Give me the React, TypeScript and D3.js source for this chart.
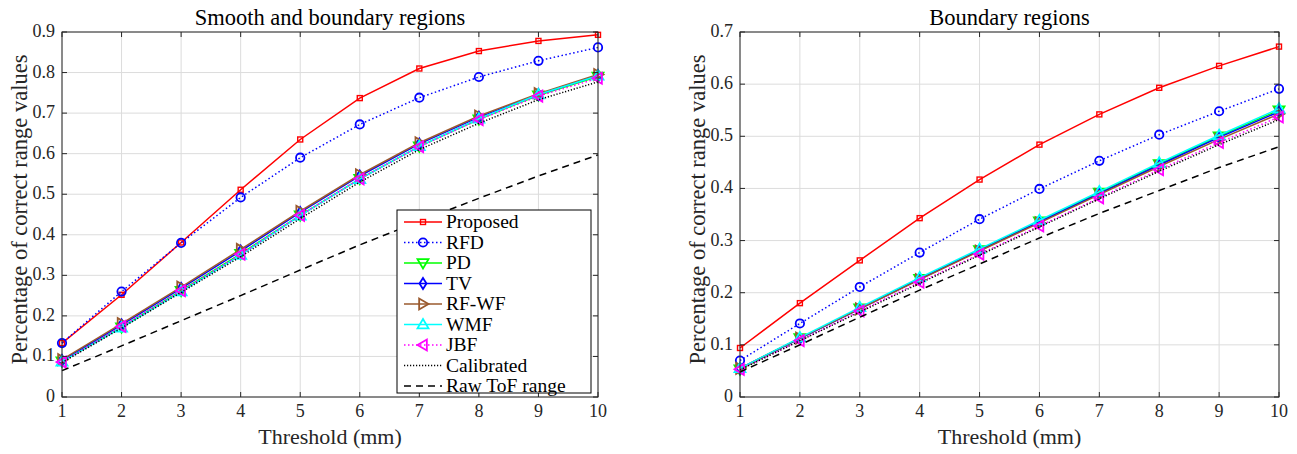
import React from "react";
import { scaleLinear, line, range } from "d3";

const thresholds = [1, 2, 3, 4, 5, 6, 7, 8, 9, 10];

// Smooth and boundary regions
const smoothProposed = [0.133, 0.252, 0.381, 0.511, 0.635, 0.737, 0.81, 0.853, 0.878, 0.893];
const smoothRFD = [0.133, 0.26, 0.38, 0.492, 0.59, 0.672, 0.738, 0.789, 0.829, 0.862];
const smoothPD = [0.088, 0.172, 0.262, 0.353, 0.448, 0.538, 0.618, 0.685, 0.744, 0.79];
const smoothTV = [0.09, 0.178, 0.268, 0.36, 0.455, 0.545, 0.624, 0.69, 0.746, 0.793];
const smoothRFWF = [0.092, 0.181, 0.271, 0.364, 0.458, 0.548, 0.627, 0.693, 0.748, 0.795];
const smoothWMF = [0.087, 0.171, 0.26, 0.35, 0.447, 0.537, 0.618, 0.686, 0.746, 0.792];
const smoothJBF = [0.086, 0.174, 0.262, 0.352, 0.448, 0.538, 0.617, 0.684, 0.742, 0.786];
const smoothCalibrated = [0.085, 0.17, 0.258, 0.346, 0.44, 0.53, 0.61, 0.675, 0.733, 0.777];
const smoothRaw = [0.065, 0.126, 0.188, 0.25, 0.313, 0.375, 0.433, 0.49, 0.545, 0.597];

// Boundary regions
const boundProposed = [0.094, 0.18, 0.262, 0.343, 0.417, 0.484, 0.542, 0.593, 0.635, 0.672];
const boundRFD = [0.07, 0.141, 0.211, 0.277, 0.341, 0.399, 0.453, 0.503, 0.548, 0.591];
const boundPD = [0.053, 0.113, 0.17, 0.227, 0.282, 0.337, 0.392, 0.447, 0.5, 0.55];
const boundTV = [0.055, 0.112, 0.169, 0.226, 0.281, 0.336, 0.39, 0.445, 0.498, 0.547];
const boundRFWF = [0.055, 0.113, 0.169, 0.225, 0.28, 0.334, 0.388, 0.442, 0.494, 0.543];
const boundWMF = [0.055, 0.114, 0.172, 0.229, 0.284, 0.339, 0.394, 0.449, 0.502, 0.553];
const boundJBF = [0.053, 0.108, 0.165, 0.22, 0.274, 0.328, 0.382, 0.436, 0.488, 0.537];
const boundCalibrated = [0.052, 0.108, 0.163, 0.218, 0.272, 0.326, 0.38, 0.433, 0.484, 0.532];
const boundRaw = [0.048, 0.1, 0.153, 0.205, 0.255, 0.305, 0.352, 0.396, 0.44, 0.48];

const seriesNames = ["Proposed", "RFD", "PD", "TV", "RF-WF", "WMF", "JBF", "Calibrated", "Raw ToF range"];

const styles = [
  { color: "#ff0000", dash: "", marker: "square" },
  { color: "#0000ff", dash: "1.5,2.5", marker: "circle" },
  { color: "#00ff00", dash: "", marker: "down" },
  { color: "#0000ff", dash: "", marker: "diamond" },
  { color: "#9a5a2e", dash: "", marker: "right" },
  { color: "#00ffff", dash: "", marker: "up" },
  { color: "#ff00ff", dash: "1.5,2.5", marker: "left" },
  { color: "#000000", dash: "1.2,1.8", marker: "" },
  { color: "#000000", dash: "7,5", marker: "" },
];

const serif = { fontFamily: "Liberation Serif" };
const AXIS = "#262626";

function Marker({ type, x, y, color }: { type: string; x: number; y: number; color: string }) {
  const s = 5.5;
  const common = { fill: "none", stroke: color, strokeWidth: 1.8 };
  switch (type) {
    case "square":
      return <rect x={x - 2.5} y={y - 2.5} width={5} height={5} fill="none" stroke={color} strokeWidth={1.4} />;
    case "circle":
      return <circle cx={x} cy={y} r={4.2} {...common} />;
    case "down":
      return <path d={`M${x - s},${y - s * 0.7}L${x + s},${y - s * 0.7}L${x},${y + s}Z`} {...common} />;
    case "up":
      return <path d={`M${x - s},${y + s * 0.7}L${x + s},${y + s * 0.7}L${x},${y - s}Z`} {...common} />;
    case "right":
      return <path d={`M${x - s * 0.7},${y - s}L${x - s * 0.7},${y + s}L${x + s},${y}Z`} {...common} />;
    case "left":
      return <path d={`M${x + s * 0.7},${y - s}L${x + s * 0.7},${y + s}L${x - s},${y}Z`} {...common} />;
    case "diamond":
      return <path d={`M${x},${y - s}L${x + 3.5},${y}L${x},${y + s}L${x - 3.5},${y}Z`} {...common} />;
    default:
      return null;
  }
}

function Panel({
  left, right, top, bottom, yMax, title, series, showLegend,
}: {
  left: number; right: number; top: number; bottom: number; yMax: number;
  title: string; series: number[][]; showLegend: boolean;
}) {
  const x = scaleLinear().domain([1, 10]).range([left, right]);
  const y = scaleLinear().domain([0, yMax]).range([bottom, top]);
  const yTicks = range(0, yMax + 0.0001, 0.1);
  const gen = line<number>().x((d, i) => x(thresholds[i])).y((d) => y(d));
  const legX = left + 335;
  const legY = 210;

  return (
    <g>
      {/* grid */}
      {thresholds.map((t) => (
        <line key={"gx" + t} x1={x(t)} x2={x(t)} y1={top} y2={bottom} stroke="#dcdcdc" strokeWidth={1} />
      ))}
      {yTicks.map((t) => (
        <line key={"gy" + t} x1={left} x2={right} y1={y(t)} y2={y(t)} stroke="#dcdcdc" strokeWidth={1} />
      ))}
      {/* series */}
      {series.map((vals, si) => (
        <g key={seriesNames[si]}>
          <path d={gen(vals) || ""} fill="none" stroke={styles[si].color} strokeWidth={1.5}
            strokeDasharray={styles[si].dash} />
          {vals.map((v, i) => (
            <Marker key={i} type={styles[si].marker} x={x(thresholds[i])} y={y(v)} color={styles[si].color} />
          ))}
        </g>
      ))}
      {/* box */}
      <rect x={left} y={top} width={right - left} height={bottom - top} fill="none" stroke={AXIS} strokeWidth={1} />
      {thresholds.map((t) => (
        <g key={"tx" + t}>
          <line x1={x(t)} x2={x(t)} y1={bottom} y2={bottom - 5} stroke={AXIS} />
          <line x1={x(t)} x2={x(t)} y1={top} y2={top + 5} stroke={AXIS} />
          <text x={x(t)} y={bottom + 20} textAnchor="middle" fontSize={18} fill={AXIS} style={serif}>{t}</text>
        </g>
      ))}
      {yTicks.map((t) => (
        <g key={"ty" + t}>
          <line x1={left} x2={left + 5} y1={y(t)} y2={y(t)} stroke={AXIS} />
          <line x1={right} x2={right - 5} y1={y(t)} y2={y(t)} stroke={AXIS} />
          <text x={left - 7} y={y(t) + 5} textAnchor="end" fontSize={18} fill={AXIS} style={serif}>
            {Math.round(t * 10) === 0 ? "0" : (Math.round(t * 10) / 10).toString()}
          </text>
        </g>
      ))}
      <text x={(left + right) / 2} y={25} textAnchor="middle" fontSize={22.5} fill="#000" style={serif}>{title}</text>
      <text x={(left + right) / 2} y={444} textAnchor="middle" fontSize={22} fill={AXIS} style={serif}>Threshold (mm)</text>
      <text transform={`translate(${left - 35},${(top + bottom) / 2 - 5}) rotate(-90)`} textAnchor="middle"
        fontSize={22.5} fill={AXIS} style={serif}>Percentage of correct range values</text>
      {showLegend && (
        <g>
          <rect x={legX} y={legY} width={194} height={183} fill="#fff" stroke="#000" strokeWidth={1} />
          {seriesNames.map((name, si) => {
            const ly = legY + 12 + si * 20.5;
            return (
              <g key={"leg" + name}>
                <line x1={legX + 7} x2={legX + 45} y1={ly} y2={ly} stroke={styles[si].color} strokeWidth={1.5}
                  strokeDasharray={styles[si].dash} />
                <Marker type={styles[si].marker} x={legX + 26} y={ly} color={styles[si].color} />
                <text x={legX + 49} y={ly + 6} fontSize={19.5} fill="#000" style={serif}>{name}</text>
              </g>
            );
          })}
        </g>
      )}
    </g>
  );
}

export default function App() {
  const smooth = [smoothProposed, smoothRFD, smoothPD, smoothTV, smoothRFWF, smoothWMF, smoothJBF, smoothCalibrated, smoothRaw];
  const bound = [boundProposed, boundRFD, boundPD, boundTV, boundRFWF, boundWMF, boundJBF, boundCalibrated, boundRaw];
  return (
    <svg width={1297} height={454} style={{ position: "absolute", left: 0, top: 0, background: "#fff" }}>
      <rect width={1297} height={454} fill="#fff" />
      <Panel left={62} right={598} top={32} bottom={397} yMax={0.9} title="Smooth and boundary regions"
        series={smooth} showLegend={true} />
      <Panel left={740} right={1279} top={32} bottom={397} yMax={0.7} title="Boundary regions"
        series={bound} showLegend={false} />
    </svg>
  );
}
